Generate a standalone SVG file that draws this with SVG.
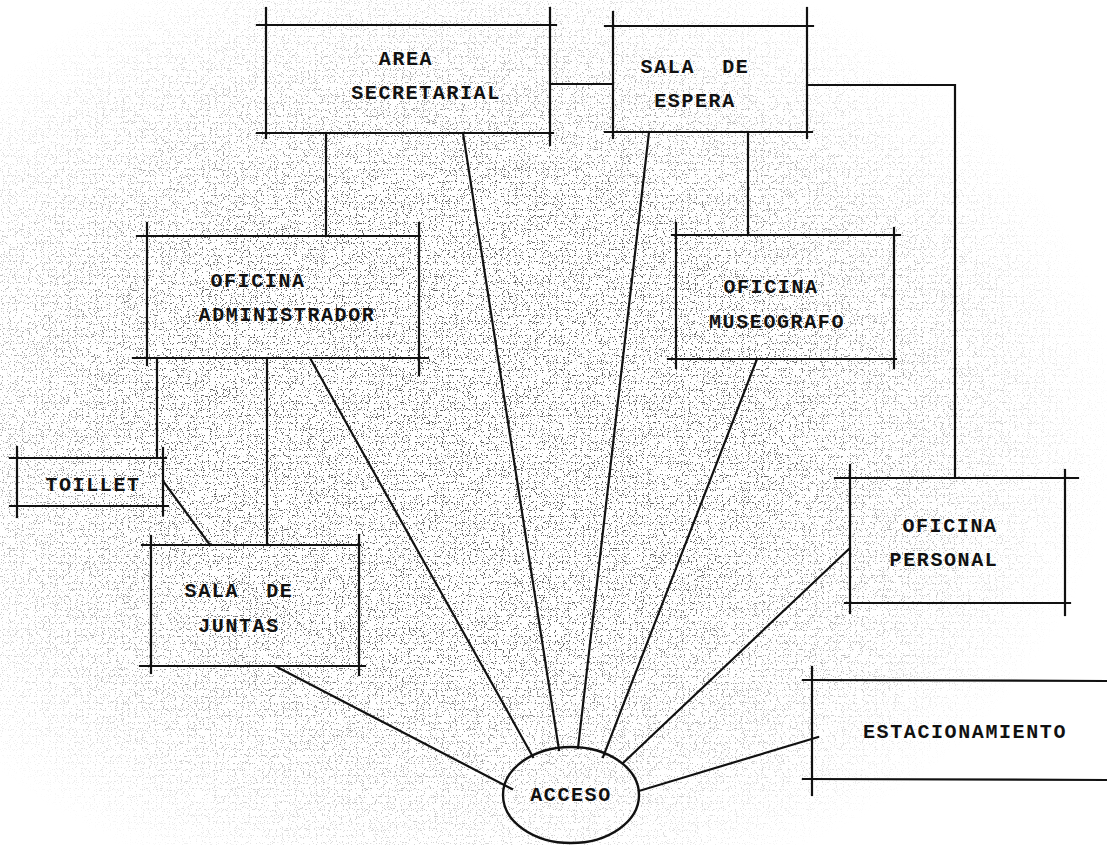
<svg xmlns="http://www.w3.org/2000/svg" width="1107" height="845" viewBox="0 0 1107 845">
<style>
.b line, .c line, .c polyline { stroke:#111; stroke-width:2.2; fill:none; stroke-linecap:square; }
.t { font-family:"Liberation Mono","DejaVu Sans Mono",monospace; font-size:20px; font-weight:bold; letter-spacing:1.6px; fill:#111; text-anchor:middle; }
</style>
<defs>
<filter id="stip" x="0" y="0" width="1107" height="845" filterUnits="userSpaceOnUse">
<feTurbulence type="fractalNoise" baseFrequency="0.85" numOctaves="1" seed="7" result="n"/>
<feColorMatrix in="n" type="matrix" values="0 0 0 0 0.1  0 0 0 0 0.1  0 0 0 0 0.1  0 0 0 30 -18.6"/>
</filter>
<radialGradient id="g" cx="0.42" cy="0.5" r="0.62">
<stop offset="0" stop-color="#fff"/>
<stop offset="0.45" stop-color="#eee"/>
<stop offset="0.75" stop-color="#555"/>
<stop offset="0.95" stop-color="#000"/>
</radialGradient>
<mask id="m"><rect width="1107" height="845" fill="url(#g)"/></mask>
</defs>
<rect width="1107" height="845" fill="#fff"/>
<g mask="url(#m)"><rect width="1107" height="845" fill="#000" filter="url(#stip)"/></g>

<g class="c" id="connectors">
<line x1="550" y1="84" x2="613" y2="84"/>
<polyline points="807,85 955,85 955,478"/>
<line x1="326" y1="133" x2="326" y2="236"/>
<line x1="748" y1="132" x2="748" y2="235"/>
<line x1="157" y1="358" x2="157" y2="458"/>
<line x1="267" y1="358" x2="267" y2="545"/>
<line x1="163" y1="481" x2="210" y2="545"/>
<line x1="463" y1="133" x2="559" y2="750"/>
<line x1="649" y1="132" x2="578" y2="748"/>
<line x1="310" y1="358" x2="533" y2="757"/>
<line x1="757" y1="359" x2="603" y2="757"/>
<line x1="850" y1="548" x2="623" y2="763"/>
<line x1="275" y1="666" x2="512" y2="789"/>
<line x1="639" y1="791" x2="818" y2="737"/>
</g>

<g class="b" id="area-secretarial">
<line x1="257" y1="25" x2="556" y2="25"/>
<line x1="257" y1="133" x2="553" y2="133"/>
<line x1="266" y1="8" x2="266" y2="138"/>
<line x1="550" y1="8" x2="550" y2="145"/>
<text class="t" x="406" y="65">AREA</text>
<text class="t" x="426" y="99">SECRETARIAL</text>
</g>

<g class="b" id="sala-espera">
<line x1="605" y1="26" x2="813" y2="26"/>
<line x1="605" y1="132" x2="812" y2="132"/>
<line x1="613" y1="12" x2="613" y2="138"/>
<line x1="807" y1="8" x2="807" y2="138"/>
<text class="t" x="695" y="73" xml:space="preserve">SALA  DE</text>
<text class="t" x="695" y="107">ESPERA</text>
</g>

<g class="b" id="oficina-administrador">
<line x1="137" y1="236" x2="420" y2="236"/>
<line x1="133" y1="358" x2="428" y2="358"/>
<line x1="147" y1="223" x2="147" y2="365"/>
<line x1="419" y1="223" x2="419" y2="375"/>
<text class="t" x="258" y="287">OFICINA</text>
<text class="t" x="287" y="321">ADMINISTRADOR</text>
</g>

<g class="b" id="oficina-museografo">
<line x1="672" y1="235" x2="900" y2="235"/>
<line x1="668" y1="359" x2="896" y2="359"/>
<line x1="676" y1="223" x2="676" y2="368"/>
<line x1="894" y1="228" x2="894" y2="368"/>
<text class="t" x="771" y="293">OFICINA</text>
<text class="t" x="777" y="328">MUSEOGRAFO</text>
</g>

<g class="b" id="toillet">
<line x1="10" y1="458" x2="166" y2="458"/>
<line x1="10" y1="506" x2="168" y2="506"/>
<line x1="17" y1="447" x2="17" y2="517"/>
<line x1="163" y1="448" x2="163" y2="515"/>
<text class="t" x="93" y="491">TOILLET</text>
</g>

<g class="b" id="sala-juntas">
<line x1="142" y1="545" x2="360" y2="545"/>
<line x1="140" y1="666" x2="365" y2="666"/>
<line x1="151" y1="536" x2="151" y2="673"/>
<line x1="359" y1="535" x2="359" y2="675"/>
<text class="t" x="239" y="597" xml:space="preserve">SALA  DE</text>
<text class="t" x="239" y="632">JUNTAS</text>
</g>

<g class="b" id="oficina-personal">
<line x1="835" y1="478" x2="1078" y2="478"/>
<line x1="845" y1="603" x2="1070" y2="603"/>
<line x1="850" y1="465" x2="850" y2="613"/>
<line x1="1065" y1="470" x2="1065" y2="615"/>
<text class="t" x="950" y="532">OFICINA</text>
<text class="t" x="944" y="566">PERSONAL</text>
</g>

<g class="b" id="estacionamiento">
<line x1="803" y1="680" x2="1107" y2="681"/>
<line x1="803" y1="779" x2="1107" y2="780"/>
<line x1="812" y1="667" x2="812" y2="795"/>
<text class="t" x="965" y="738">ESTACIONAMIENTO</text>
</g>

<g id="acceso">
<ellipse cx="571" cy="795" rx="68" ry="48" fill="none" stroke="#111" stroke-width="2.4"/>
<text class="t" x="571" y="801">ACCESO</text>
</g>
</svg>
